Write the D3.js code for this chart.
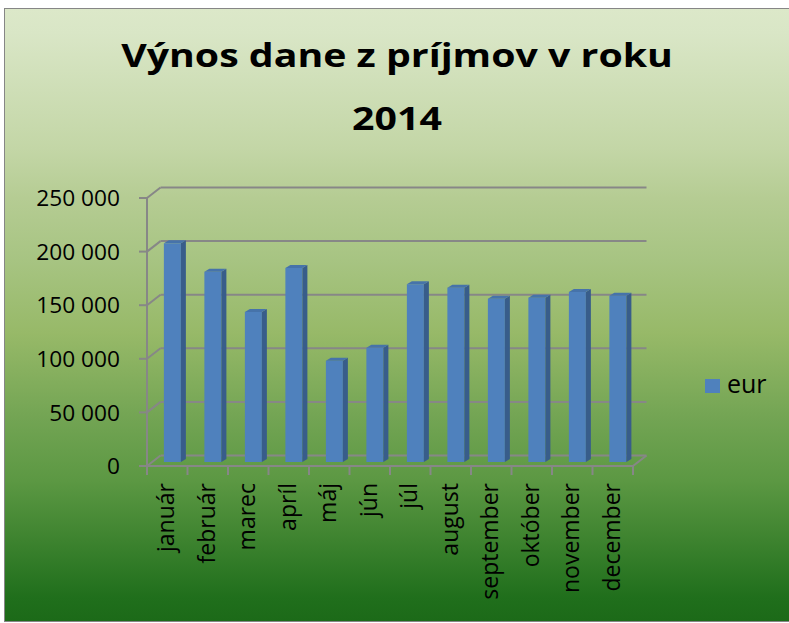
<!DOCTYPE html>
<html>
<head>
<meta charset="utf-8">
<script src="https://cdn.jsdelivr.net/npm/d3@7"></script>
<style>
  body { margin: 0; background: #fff; }
  svg text { font-family: "Open Sans", "DejaVu Sans", sans-serif; fill: #000; }
</style>
</head>
<body>
<div id="main"></div>
<script>
// data
var months = ["január", "február", "marec", "apríl", "máj", "jún",
              "júl", "august", "september", "október", "november", "december"];
var eur = [204000, 177500, 140000, 181000, 94500, 106500,
           165800, 162600, 152300, 153300, 158600, 155100];
var yTicks = [0, 50000, 100000, 150000, 200000, 250000];
var yTickLabels = ["0", "50 000", "100 000", "150 000", "200 000", "250 000"];
var seriesName = "eur";
var titleLines = ["Výnos dane z príjmov v roku", "2014"];

var width = 789, height = 623;

// 3d offsets of the floor / back wall
var depth = {dx: 13.5, dy: -10.5};
var barPos = 0.38;       // depth position of bar front face
var barDepth = {dx: 5, dy: -3};

var translate = function(x, y) {
  return "translate(" + x + "," + y + ")";
};

var x = d3.scaleBand()
    .domain(months)
    .range([147, 633])
    .paddingInner(0.58)
    .paddingOuter(0.29);

var y = d3.scaleLinear()
    .domain([0, 250000])
    .range([466, 198]);

var svg = d3.select("#main").append("svg")
    .attr("width", width)
    .attr("height", height);

var grad = svg.append("defs").append("linearGradient")
    .attr("id", "bg")
    .attr("x1", 0).attr("y1", 0).attr("x2", 0).attr("y2", 1);

[[0, "#dce8c9"], [0.04, "#d9e6c6"], [0.23, "#c3d6a6"], [0.31, "#b5cc93"],
 [0.41, "#a7c482"], [0.53, "#97b968"], [0.67, "#72a453"], [0.77, "#5c9843"],
 [0.96, "#206f1c"], [1, "#1c6a18"]].forEach(function(s) {
  grad.append("stop").attr("offset", s[0]).attr("stop-color", s[1]);
});

svg.append("rect")
    .attr("x", 4.5).attr("y", 8.5)
    .attr("width", width).attr("height", 613)
    .attr("fill", "url(#bg)")
    .attr("stroke", "#868686")
    .attr("stroke-width", 1);

// title
var title = svg.append("g")
    .attr("transform", translate(397, 0) + " scale(1.19,1)");

title.selectAll("text")
    .data(titleLines)
    .enter().append("text")
      .attr("x", 0)
      .attr("y", function(d, i) { return i === 0 ? 67 : 130; })
      .attr("text-anchor", "middle")
      .style("font-size", "33px")
      .style("font-weight", "bold")
      .text(function(d) { return d; });

var gridColor = "#878787";
var x0 = x.range()[0], x1 = x.range()[1];

// back wall gridlines + side diagonals
var grid = svg.append("g");
yTicks.forEach(function(t) {
  var yy = y(t);
  grid.append("line")
      .attr("x1", x0 + depth.dx).attr("x2", x1 + depth.dx)
      .attr("y1", yy + depth.dy).attr("y2", yy + depth.dy)
      .attr("stroke", gridColor).attr("stroke-width", 2);
  grid.append("line")
      .attr("x1", x0).attr("x2", x0 + depth.dx)
      .attr("y1", yy).attr("y2", yy + depth.dy)
      .attr("stroke", gridColor).attr("stroke-width", 2);
});

// floor right edge
grid.append("line")
    .attr("x1", x1).attr("x2", x1 + depth.dx)
    .attr("y1", y(0)).attr("y2", y(0) + depth.dy)
    .attr("stroke", gridColor).attr("stroke-width", 2);

// bars
var bars = svg.append("g")
    .selectAll(".bar")
    .data(months.map(function(m, i) { return {month: m, value: eur[i]}; }))
    .enter().append("g")
      .attr("class", "bar")
      .attr("transform", translate(barPos * depth.dx, barPos * depth.dy));

var bw = x.bandwidth();

bars.append("rect")
    .attr("x", function(d) { return x(d.month); })
    .attr("y", function(d) { return y(d.value); })
    .attr("width", bw)
    .attr("height", function(d) { return y(0) - y(d.value); })
    .attr("fill", "#4f81bd");

bars.append("path")
    .attr("fill", "#385d8a")
    .attr("d", function(d) {
      var xr = x(d.month) + bw, yt = y(d.value), yb = y(0);
      return "M" + xr + "," + yt +
             "L" + (xr + barDepth.dx) + "," + (yt + barDepth.dy) +
             "L" + (xr + barDepth.dx) + "," + (yb + barDepth.dy) +
             "L" + xr + "," + yb + "Z";
    });

bars.append("path")
    .attr("fill", "#4673aa")
    .attr("d", function(d) {
      var xl = x(d.month), yt = y(d.value);
      return "M" + xl + "," + yt +
             "L" + (xl + bw) + "," + yt +
             "L" + (xl + bw + barDepth.dx) + "," + (yt + barDepth.dy) +
             "L" + (xl + barDepth.dx) + "," + (yt + barDepth.dy) + "Z";
    });

// front axes
var axes = svg.append("g");
axes.append("line")
    .attr("x1", x0).attr("x2", x0)
    .attr("y1", y(250000)).attr("y2", y(0) + 9)
    .attr("stroke", gridColor).attr("stroke-width", 2);
axes.append("line")
    .attr("x1", x0 - 7).attr("x2", x1)
    .attr("y1", y(0)).attr("y2", y(0))
    .attr("stroke", gridColor).attr("stroke-width", 2);

yTicks.forEach(function(t) {
  axes.append("line")
      .attr("x1", x0 - 8).attr("x2", x0)
      .attr("y1", y(t)).attr("y2", y(t))
      .attr("stroke", gridColor).attr("stroke-width", 2);
});

var step = x.step();
d3.range(months.length + 1).forEach(function(i) {
  var xx = x0 + i * step;
  axes.append("line")
      .attr("x1", xx).attr("x2", xx)
      .attr("y1", y(0)).attr("y2", y(0) + 9)
      .attr("stroke", gridColor).attr("stroke-width", 2);
});

// y labels
svg.append("g").selectAll("text")
    .data(yTicks)
    .enter().append("text")
      .attr("x", 120)
      .attr("y", function(d) { return y(d); })
      .attr("dy", "0.36em")
      .attr("text-anchor", "end")
      .style("font-size", "22.7px")
      .text(function(d, i) { return yTickLabels[i]; });

// x labels
svg.append("g").selectAll("text")
    .data(months)
    .enter().append("text")
      .attr("transform", function(d) {
        return translate(x(d) + bw / 2 + 7, 483) + " rotate(-90)";
      })
      .attr("text-anchor", "end")
      .style("font-size", "23px")
      .text(function(d) { return d; });

// legend
var legend = svg.append("g").attr("transform", translate(705, 379));
legend.append("rect")
    .attr("width", 15).attr("height", 14)
    .attr("fill", "#4f81bd");
legend.append("text")
    .attr("x", 22).attr("y", 14)
    .style("font-size", "25px")
    .text(seriesName);
</script>
</body>
</html>
